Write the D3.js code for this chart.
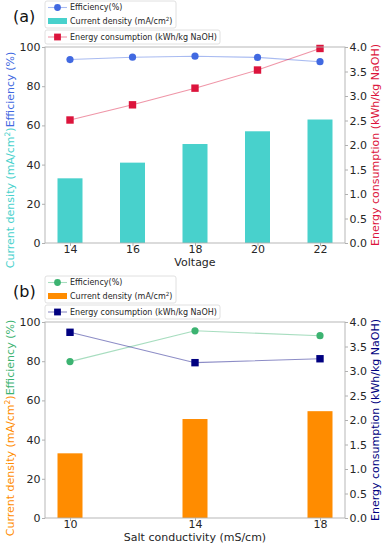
<!DOCTYPE html>
<html><head><meta charset="utf-8">
<script src="https://cdn.jsdelivr.net/npm/d3@7"></script>
<style>
body{margin:0;background:#fff;}
svg{display:block;font-family:"DejaVu Sans",sans-serif;}
</style></head>
<body><svg id="c" width="382" height="543"></svg>
<script>
// Panel (a)
const voltage = ["14","16","18","20","22"];
const effA = [93.6, 94.8, 95.3, 94.7, 92.5];
const curA = [33, 41, 50.5, 57, 63];
const engA = [2.51, 2.82, 3.16, 3.53, 3.97];
// Panel (b)
const salt = ["10","14","18"];
const effB = [79.8, 95.5, 93.0];
const curB = [33, 50.5, 54.5];
const engB = [3.79, 3.17, 3.25];
const leftTicks = [0,20,40,60,80,100];
const rightTicks = [0,0.5,1,1.5,2,2.5,3,3.5,4];

const svg = d3.select("#c");
const fs = 11;
const spineCol = "#b0b0b0";
const textCol = "#262626";

function panel(o){
  const g = svg.append("g");
  const L = 45, R = 345, T = o.top, B = o.top + 196;
  const n = o.cats.length;
  const x = d3.scaleLinear().domain([-0.5 + o.pad, n - 0.5 - o.pad]).range([L, R]);
  const yL = d3.scaleLinear().domain([0,100]).range([B, T]);
  const yR = d3.scaleLinear().domain([0,4]).range([B, T]);
  const bw = x(o.bw) - x(0);

  // bars
  g.selectAll("rect.bar").data(o.cur).join("rect")
    .attr("x",(d,i)=>x(i)-bw/2).attr("width",bw)
    .attr("y",d=>yL(d)).attr("height",d=>B-yL(d))
    .attr("fill",o.barCol);

  // efficiency line
  const lineE = d3.line().x((d,i)=>x(i)).y(d=>yL(d));
  g.append("path").datum(o.eff).attr("d",lineE).attr("fill","none")
    .attr("stroke",o.effCol).attr("stroke-width",1.1).attr("stroke-opacity",0.45);
  g.selectAll("circle.e").data(o.eff).join("circle")
    .attr("cx",(d,i)=>x(i)).attr("cy",d=>yL(d)).attr("r",3.6).attr("fill",o.effCol);

  // energy line
  const lineG = d3.line().x((d,i)=>x(i)).y(d=>yR(d));
  g.append("path").datum(o.eng).attr("d",lineG).attr("fill","none")
    .attr("stroke",o.engCol).attr("stroke-width",1.1).attr("stroke-opacity",0.45);
  g.selectAll("rect.g").data(o.eng).join("rect")
    .attr("x",(d,i)=>x(i)-3.7).attr("y",d=>yR(d)-3.7).attr("width",7.4).attr("height",7.4)
    .attr("fill",o.engCol);

  // frame
  g.append("rect").attr("x",L).attr("y",T).attr("width",R-L).attr("height",B-T)
    .attr("fill","none").attr("stroke",spineCol).attr("stroke-width",0.9);

  // axes
  const ax = d3.axisLeft(yL).tickValues(leftTicks).tickSize(3).tickPadding(1.5).tickFormat(d3.format("d"));
  const axG = g.append("g").attr("transform",`translate(${L},0)`).call(ax);
  const ar = d3.axisRight(yR).tickValues(rightTicks).tickSize(3).tickPadding(1.5).tickFormat(d3.format(".1f"));
  const arG = g.append("g").attr("transform",`translate(${R},0)`).call(ar);
  const ab = d3.axisBottom(x).tickValues(d3.range(n)).tickSize(3).tickPadding(0).tickFormat(i=>o.cats[i]);
  const abG = g.append("g").attr("transform",`translate(0,${B})`).call(ab);
  [axG,arG,abG].forEach(a=>{
    a.select(".domain").remove();
    a.selectAll("line").attr("stroke",spineCol);
    a.selectAll("text").attr("font-size",fs).attr("fill",textCol).attr("font-family","DejaVu Sans");
  });
  abG.selectAll("text").attr("y",0).attr("dy",null).attr("dominant-baseline",null).attr("transform","translate(0,10)");

  // x label
  g.append("text").attr("x",(L+R)/2).attr("y",B+23).attr("text-anchor","middle")
    .attr("font-size",fs).attr("fill",textCol).text(o.xlabel);

  // left label (two colors)
  const lt = g.append("text").attr("transform",`translate(14,${o.lcenter}) rotate(-90)`)
    .attr("text-anchor","middle").attr("font-size",fs);
  lt.append("tspan").attr("fill",o.barCol).text("Current density (mA/cm");
  lt.append("tspan").attr("fill",o.barCol).attr("font-size",fs*0.7).attr("dy",-4).text("2");
  lt.append("tspan").attr("fill",o.barCol).attr("dy",4).text(")");
  lt.append("tspan").attr("fill",o.effCol).text("Efficiency (%)");

  // right label
  g.append("text").attr("transform",`translate(379,${(T+B)/2}) rotate(-90)`)
    .attr("text-anchor","middle").attr("font-size",fs).attr("fill",o.engCol)
    .text("Energy consumption (kWh/kg NaOH)");

  // panel letter
  g.append("text").attr("x",13).attr("y",T-25).attr("font-size",16).attr("fill","#111").text(o.letter);

  // legends
  const lfs = 8;
  const l1 = g.append("g");
  l1.append("rect").attr("x",45).attr("y",T-46).attr("width",131).attr("height",27).attr("rx",2)
    .attr("fill","#fff").attr("fill-opacity",0.85).attr("stroke","#d8d8d8").attr("stroke-width",0.8);
  l1.append("line").attr("x1",48).attr("x2",67).attr("y1",T-39.5).attr("y2",T-39.5)
    .attr("stroke",o.effCol).attr("stroke-opacity",0.45).attr("stroke-width",1.1);
  l1.append("circle").attr("cx",57.5).attr("cy",T-39.5).attr("r",3.4).attr("fill",o.effCol);
  l1.append("text").attr("x",70).attr("y",T-36.7).attr("font-size",lfs).attr("fill",textCol).text("Efficiency(%)");
  l1.append("rect").attr("x",48).attr("y",T-29).attr("width",19).attr("height",6).attr("fill",o.barCol);
  const t2 = l1.append("text").attr("x",70).attr("y",T-22.7).attr("font-size",lfs).attr("fill",textCol);
  t2.append("tspan").text("Current density (mA/cm");
  t2.append("tspan").attr("font-size",lfs*0.7).attr("dy",-3).text("2");
  t2.append("tspan").attr("dy",3).text(")");

  const l2 = g.append("g");
  l2.append("rect").attr("x",45).attr("y",T-17).attr("width",175).attr("height",14).attr("rx",2)
    .attr("fill","#fff").attr("fill-opacity",0.85).attr("stroke","#d8d8d8").attr("stroke-width",0.8);
  l2.append("line").attr("x1",48).attr("x2",67).attr("y1",T-10).attr("y2",T-10)
    .attr("stroke",o.engCol).attr("stroke-opacity",0.45).attr("stroke-width",1.1);
  l2.append("rect").attr("x",57.5-3.4).attr("y",T-13.4).attr("width",6.8).attr("height",6.8).attr("fill",o.engCol);
  l2.append("text").attr("x",70).attr("y",T-7.2).attr("font-size",lfs).attr("fill",textCol)
    .text("Energy consumption (kWh/kg NaOH)");
}

panel({top:47, cats:voltage, eff:effA, cur:curA, eng:engA, pad:0.1, bw:0.4,
  barCol:"#48D1CC", effCol:"#4169E1", engCol:"#DC143C", xlabel:"Voltage", letter:"(a)", lcenter:160});
panel({top:322, cats:salt, eff:effB, cur:curB, eng:engB, pad:0.3, bw:0.2,
  barCol:"#FF8C00", effCol:"#3CB371", engCol:"#000080", xlabel:"Salt conductivity (mS/cm)", letter:"(b)", lcenter:428});
</script></body></html>
